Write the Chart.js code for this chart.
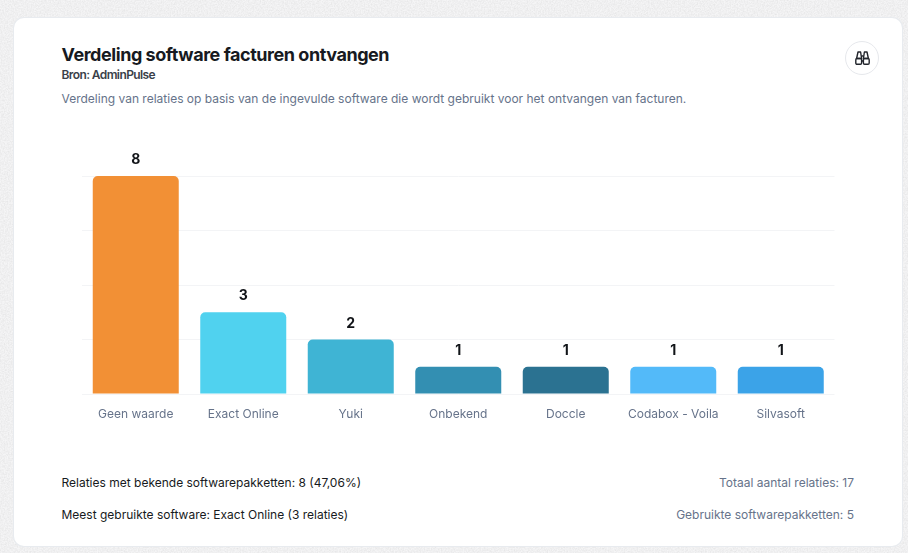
<!DOCTYPE html>
<html lang="nl">
<head>
<meta charset="utf-8">
<title>Verdeling software facturen ontvangen</title>
<script src="https://cdn.jsdelivr.net/npm/chart.js@4"></script>
<style>
html,body{margin:0;padding:0;width:908px;height:553px;overflow:hidden;background:#f5f5f6;font-family:Inter,sans-serif;}
#tex{position:absolute;left:0;top:0;width:908px;height:553px;}
#card{position:absolute;left:14px;top:18px;width:888px;height:528px;background:#fff;border-radius:10px;box-shadow:0 0 0 1px #e8ebef;}
.t{position:absolute;white-space:nowrap;line-height:1;}
#title{left:61.5px;top:45.5px;font-size:18px;font-weight:700;color:#171a21;letter-spacing:-.45px;}
#src{left:61.5px;top:69px;font-size:12px;font-weight:600;color:#3a3f49;letter-spacing:-.6px;}
#desc{left:61.5px;top:92.5px;font-size:12px;color:#66738a;letter-spacing:0;}
#btn{position:absolute;left:845px;top:41px;width:32px;height:32px;border:1px solid #e6e8ec;border-radius:50%;background:#fff;}
#btn svg{position:absolute;left:9px;top:9px;}
#chartWrap{position:absolute;left:62px;top:140px;width:793px;height:287px;}
.l{left:61.5px;font-size:12px;color:#171a21;letter-spacing:0;}
.r{right:54px;font-size:12px;color:#66738a;letter-spacing:0;}
</style>
</head>
<body>
<svg id="tex" xmlns="http://www.w3.org/2000/svg"><filter id="n"><feTurbulence type="fractalNoise" baseFrequency="0.7" numOctaves="2" seed="4"/><feColorMatrix values="0 0 0 0 .5 0 0 0 0 .5 0 0 0 0 .5 .45 0 0 0 -.13"/></filter><rect width="908" height="553" filter="url(#n)"/></svg>
<div id="card"></div>
<div class="t" id="title">Verdeling software facturen ontvangen</div>
<div class="t" id="src">Bron: AdminPulse</div>
<div class="t" id="desc">Verdeling van relaties op basis van de ingevulde software die wordt gebruikt voor het ontvangen van facturen.</div>
<div id="btn"><svg width="15" height="15" viewBox="0 0 15 15" fill="none" stroke="#23262d" stroke-width="1.4" stroke-linejoin="round"><path d="M3 1h2.6l1 6.5H1.6z"/><path d="M9.4 1H12l1.4 6.5H8.4z"/><rect x=".8" y="7.5" width="5.8" height="5.8" rx="1.2"/><rect x="8.4" y="7.5" width="5.8" height="5.8" rx="1.2"/><path d="M6.4 5h2.2M6.6 10h1.8"/></svg></div>
<div id="chartWrap"><canvas id="c"></canvas></div>
<div class="t l" style="top:477px">Relaties met bekende softwarepakketten: 8 (47,06%)</div>
<div class="t l" style="top:509px">Meest gebruikte software: Exact Online (3 relaties)</div>
<div class="t r" style="top:477px">Totaal aantal relaties: 17</div>
<div class="t r" style="top:509px">Gebruikte softwarepakketten: 5</div>
<script>
const categories = ["Geen waarde","Exact Online","Yuki","Onbekend","Doccle","Codabox - Voila","Silvasoft"];
const relaties = [8,3,2,1,1,1,1];
const barColors = ["#f29035","#50d2ef","#3fb4d4","#338fb2","#2b7291","#53baf9","#3ba3e8"];
const yTicks = [0,2,4,6,8];

const valueLabels = {
  id:"valueLabels",
  afterDatasetsDraw(chart){
    const {ctx} = chart;
    const meta = chart.getDatasetMeta(0);
    ctx.save();
    ctx.font = "700 14px Inter, sans-serif";
    ctx.fillStyle = "#111418";
    ctx.textAlign = "center";
    ctx.textBaseline = "alphabetic";
    meta.data.forEach((bar,i)=>{ ctx.fillText(String(relaties[i]), bar.x, bar.y-12); });
    ctx.restore();
  }
};

new Chart(document.getElementById("c"),{
  type:"bar",
  data:{labels:categories,datasets:[{data:relaties,backgroundColor:barColors,borderRadius:{topLeft:5,topRight:5,bottomLeft:0,bottomRight:0},borderSkipped:"bottom",categoryPercentage:.8,barPercentage:1}]},
  options:{
    responsive:true,maintainAspectRatio:false,animation:false,
    layout:{padding:{left:20,right:20.5,top:36,bottom:.5}},
    plugins:{legend:{display:false},tooltip:{enabled:false},title:{display:false}},
    scales:{
      x:{grid:{display:false},border:{display:false},
         ticks:{color:"#66738a",font:{family:"Inter, sans-serif",size:12},padding:5,maxRotation:0,autoSkip:false}},
      y:{min:0,max:8,afterBuildTicks(a){a.ticks=yTicks.map(v=>({value:v}));},
         grid:{color:"#f3f4f6",lineWidth:1,drawTicks:false},border:{display:false},
         ticks:{display:false}}
    }
  },
  plugins:[valueLabels]
});
</script>
</body>
</html>
